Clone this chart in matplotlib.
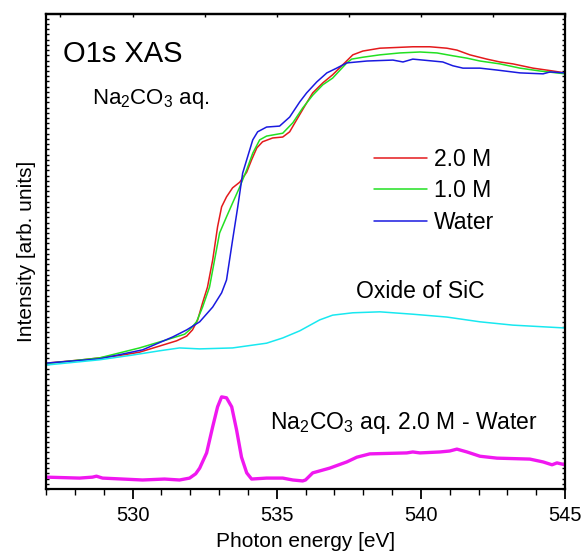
import matplotlib
matplotlib.use("Agg")
import matplotlib.pyplot as plt
from matplotlib.ticker import MultipleLocator, NullFormatter

plt.rcParams['font.family'] = ['Liberation Sans', 'DejaVu Sans']
plt.rcParams['mathtext.fontset'] = 'custom'
plt.rcParams['mathtext.rm'] = 'Liberation Sans'
plt.rcParams['mathtext.it'] = 'Liberation Sans'
plt.rcParams['mathtext.default'] = 'regular'

# ---- data (photon energy in eV, intensity in arb. units) ----
red_x = [527.01, 528.26, 529.44, 530.24, 530.94, 531.53, 531.88, 532.08, 532.26, 532.43,
         532.60, 532.78, 532.95, 533.09, 533.26, 533.47, 533.72, 533.96, 534.13, 534.31,
         534.51, 534.86, 535.21, 535.45, 535.69, 536.04, 536.25, 536.60, 536.94, 537.29,
         537.64, 537.99, 538.58, 539.72, 540.31, 540.90, 541.25, 541.70, 542.29, 542.74,
         543.19, 543.89, 544.58, 545.0]
red_y = [26.5, 27.2, 28.0, 28.8, 30.1, 31.2, 32.2, 33.5, 35.6, 39.2,
         42.5, 48.2, 55.2, 59.4, 61.5, 63.4, 64.6, 66.7, 69.3, 71.8,
         73.1, 73.9, 74.1, 75.2, 77.7, 81.3, 83.4, 85.5, 87.2, 89.3,
         91.4, 92.2, 92.8, 93.1, 93.1, 92.8, 92.4, 91.4, 90.5, 89.9,
         89.5, 88.6, 88.0, 87.6]

green_x = [527.01, 528.85, 530.24, 531.18, 531.81, 531.98, 532.22, 532.43, 532.67, 533.02,
           533.26, 533.47, 533.72, 533.96, 534.17, 534.41, 534.65, 535.21, 535.56, 535.90,
           536.25, 536.60, 536.94, 537.43, 537.60, 537.99, 538.58, 539.27, 539.97, 540.56,
           541.11, 541.60, 542.05, 542.74, 543.44, 544.13, 545.0]
green_y = [26.4, 27.6, 29.7, 31.4, 32.6, 33.5, 35.2, 38.3, 42.5, 53.9,
           57.3, 60.2, 63.6, 67.2, 70.7, 73.5, 74.3, 74.9, 77.1, 80.2,
           82.9, 85.1, 86.5, 89.7, 90.5, 90.9, 91.4, 91.8, 92.0, 91.8,
           91.2, 90.7, 90.1, 89.5, 88.6, 88.0, 87.4]

blue_x = [527.01, 528.85, 530.35, 531.39, 531.88, 532.33, 532.78, 533.09, 533.26, 533.47,
          533.65, 533.82, 533.99, 534.17, 534.34, 534.65, 535.10, 535.45, 535.80, 536.04,
          536.39, 536.74, 537.08, 537.43, 538.13, 539.03, 539.38, 539.72, 540.07, 540.76,
          541.11, 541.46, 542.05, 542.64, 543.44, 544.24, 544.48, 545.0]
blue_y = [26.5, 27.4, 29.3, 32.0, 33.5, 35.2, 38.3, 41.3, 44.0, 52.4,
          59.4, 66.5, 69.9, 73.5, 75.2, 76.2, 76.4, 78.3, 81.5, 83.4,
          85.7, 87.6, 88.6, 89.7, 90.1, 90.3, 89.9, 90.5, 90.3, 89.9,
          89.1, 88.6, 88.6, 88.2, 87.6, 87.4, 87.8, 87.6]

oxide_x = [527.01, 528.85, 530.0, 530.94, 531.63, 532.33, 533.47, 534.65, 535.21, 535.80,
           536.49, 536.94, 537.64, 538.58, 539.72, 540.90, 542.05, 543.19, 545.0]
oxide_y = [26.1, 27.2, 28.2, 29.1, 29.7, 29.5, 29.7, 30.7, 31.8, 33.3,
           35.6, 36.6, 37.1, 37.3, 36.8, 36.2, 35.2, 34.5, 33.9]

diff_x = [527.01, 528.16, 528.61, 528.75, 528.96, 530.35, 531.11, 531.63, 531.98, 532.19,
          532.33, 532.57, 532.78, 532.95, 533.09, 533.26, 533.44, 533.61, 533.78, 533.96,
          534.13, 534.65, 535.21, 535.56, 535.90, 536.0, 536.25, 536.84, 537.43, 537.78,
          538.23, 539.51, 539.72, 539.97, 540.66, 541.0, 541.25, 541.60, 542.05, 542.64,
          543.78, 544.24, 544.55, 544.72, 545.0]
diff_y = [2.5, 2.3, 2.5, 2.7, 2.3, 1.9, 2.1, 1.9, 2.3, 3.2,
          4.4, 7.6, 13.1, 17.3, 19.4, 19.2, 17.3, 12.4, 6.7, 3.4,
          2.1, 2.3, 2.3, 1.9, 1.7, 1.9, 3.4, 4.4, 5.7, 6.7,
          7.4, 7.6, 7.8, 7.6, 7.8, 8.0, 8.4, 7.8, 6.9, 6.5,
          6.3, 5.7, 5.1, 5.5, 5.1]

legend_labels = ["2.0 M", "1.0 M", "Water"]
x_ticks = [530, 535, 540, 545]
top_ticks = [527.5, 530, 532.5, 535, 537.5, 540, 542.5, 545]

# ---- figure ----
fig = plt.figure(figsize=(5.81, 5.53), dpi=100)
ax = fig.add_axes([0.0792, 0.1157, 0.8933, 0.859])

kw = dict(solid_joinstyle='round', solid_capstyle='round')
l1, = ax.plot(red_x, red_y, color='#e41a1c', lw=1.1, label=legend_labels[0], **kw)
l2, = ax.plot(green_x, green_y, color='#22e022', lw=1.1, label=legend_labels[1], **kw)
l3, = ax.plot(blue_x, blue_y, color='#1a1ae0', lw=1.1, label=legend_labels[2], **kw)
ax.plot(oxide_x, oxide_y, color='#18e8f0', lw=1.1, **kw)
ax.plot(diff_x, diff_y, color='#f018f0', lw=2.4, **kw)

ax.set_xlim(527, 545)
ax.set_ylim(0, 100)

ax.set_xticks(x_ticks)
ax.xaxis.set_minor_locator(MultipleLocator(1))
ax.tick_params(axis='x', which='major', direction='out', length=7, width=1.3,
               labelsize=14.5, pad=5, top=False)
ax.tick_params(axis='x', which='minor', direction='out', length=4.5, width=1.0, top=False)

ax.set_yticks([])
ax.yaxis.set_minor_locator(MultipleLocator(1.1))
ax.yaxis.set_minor_formatter(NullFormatter())
ax.tick_params(axis='y', which='minor', direction='in', length=2, width=1.0,
               left=True, right=True)

axt = ax.secondary_xaxis('top')
axt.set_xticks(top_ticks)
axt.tick_params(direction='in', length=2.5, width=1.0, labeltop=False)

for sp in ax.spines.values():
    sp.set_linewidth(1.6)
    sp.set_color('black')
    sp.set_visible(True)
    sp.set_zorder(5)
axt.spines['top'].set_linewidth(1.6)

ax.set_xlabel("Photon energy [eV]", fontsize=15, labelpad=5)
ax.set_ylabel("Intensity [arb. units]", fontsize=15, labelpad=4)

ax.text(0.033, 0.915, "O1s XAS", transform=ax.transAxes, fontsize=21, va='center', ha='left')
ax.text(0.088, 0.822, "Na$_2$CO$_3$ aq.", transform=ax.transAxes, fontsize=16, va='center', ha='left')
ax.text(539.97, 41.5, "Oxide of SiC", fontsize=16.5, ha='center', va='center')
ax.text(539.4, 13.9, "Na$_2$CO$_3$ aq. 2.0 M - Water", fontsize=16.5, ha='center', va='center')

ax.legend(handles=[l1, l2, l3], loc='upper left', bbox_to_anchor=(0.615, 0.737),
          frameon=False, fontsize=16.5, handlelength=2.3, handletextpad=0.3,
          labelspacing=0.36, borderaxespad=0)

fig.savefig("out.png", dpi=100)
